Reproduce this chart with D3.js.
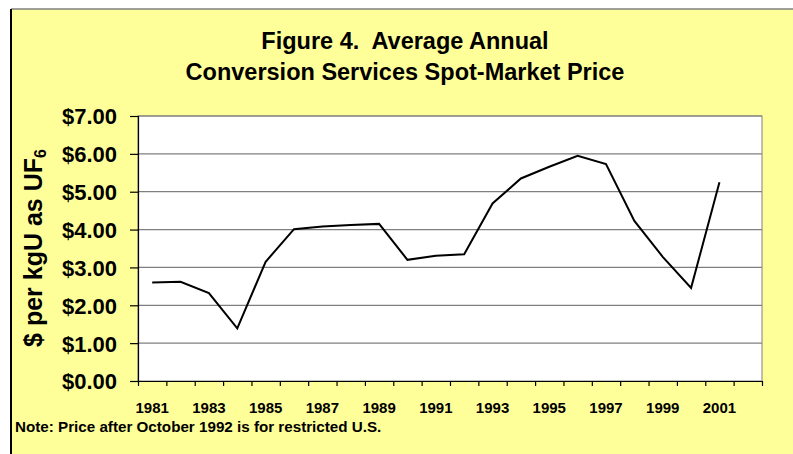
<!DOCTYPE html>
<html>
<head>
<meta charset="utf-8">
<script src="https://cdn.jsdelivr.net/npm/d3@7"></script>
<style>
  html, body { margin: 0; padding: 0; background: #ffffff; }
  svg { display: block; }
  text { font-family: "Liberation Sans", Arial, sans-serif; font-weight: bold; fill: #000; }
</style>
</head>
<body>
<script>
// ---- Data ----
const years = d3.range(1981, 2003);            // category axis 1981..2002
const dataYears = d3.range(1981, 2002);        // years with values
const prices = [2.60, 2.62, 2.32, 1.39, 3.15, 4.01, 4.08, 4.12, 4.15, 3.20, 3.31,
                3.35, 4.69, 5.35, 5.66, 5.95, 5.73, 4.23, 3.28, 2.46, 5.25];
const yTicks = [0, 1, 2, 3, 4, 5, 6, 7];
const xLabelYears = [1981, 1983, 1985, 1987, 1989, 1991, 1993, 1995, 1997, 1999, 2001];
const titleLines = ["Figure 4.  Average Annual", "Conversion Services Spot-Market Price"];
const yTitle = "$ per kgU as UF";
const yTitleSub = "6";
const note = "Note: Price after October 1992 is for restricted U.S.";

// ---- Layout ----
const W = 793, H = 454;
const plot = { left: 138, right: 762, top: 116, bottom: 381 };

const svg = d3.select("body").append("svg").attr("width", W).attr("height", H);

// background frame
svg.append("rect").attr("x", 11).attr("y", 9).attr("width", W).attr("height", H)
  .attr("fill", "#FFFF99");
svg.append("line").attr("x1", 11).attr("x2", W).attr("y1", 9).attr("y2", 9)
  .attr("stroke", "#808080").attr("stroke-width", 1.5);
svg.append("line").attr("x1", 11).attr("x2", 11).attr("y1", 9).attr("y2", H)
  .attr("stroke", "#000").attr("stroke-width", 2);

// title
svg.append("g").selectAll("text").data(titleLines).join("text")
  .attr("x", 405).attr("y", (d, i) => 49 + i * 31)
  .attr("text-anchor", "middle").style("font-size", "23.5px")
  .style("white-space", "pre").attr("xml:space", "preserve").text(d => d);

// scales
const x = d3.scaleBand().domain(years).range([plot.left, plot.right]).padding(0);
const xEdge = d3.scaleLinear().domain([0, years.length]).range([plot.left, plot.right]);
const y = d3.scaleLinear().domain([0, 7]).range([plot.bottom, plot.top]);

// plot area
svg.append("rect").attr("x", plot.left).attr("y", plot.top)
  .attr("width", plot.right - plot.left).attr("height", plot.bottom - plot.top)
  .attr("fill", "#ffffff").attr("stroke", "#808080").attr("stroke-width", 1);

// gridlines
svg.append("g").selectAll("line").data(yTicks.filter(d => d > 0)).join("line")
  .attr("x1", plot.left).attr("x2", plot.right)
  .attr("y1", d => y(d)).attr("y2", d => y(d))
  .attr("stroke", "#7f7f7f").attr("stroke-width", 1.2);

// y axis
const yAxis = svg.append("g").attr("transform", `translate(${plot.left},0)`)
  .call(d3.axisLeft(y).tickValues(yTicks).tickSize(8).tickPadding(13)
    .tickFormat(d => "$" + d.toFixed(2)));
yAxis.selectAll("path, line").attr("stroke", "#000").attr("stroke-width", 1.2);
yAxis.selectAll("text").style("font-size", "22px").attr("dy", "0.36em")
  .style("font-family", "Liberation Sans, Arial, sans-serif").style("font-weight", "bold");

// x axis ticks at category edges
const xAxisTicks = svg.append("g").attr("transform", `translate(0,${plot.bottom})`)
  .call(d3.axisBottom(xEdge).tickValues(d3.range(0, years.length + 1)).tickSize(5)
    .tickSizeOuter(0).tickFormat(""));
xAxisTicks.selectAll("path, line").attr("stroke", "#000").attr("stroke-width", 1.2);

// x labels at category centers
const xLabels = svg.append("g").attr("transform", `translate(0,${plot.bottom})`)
  .call(d3.axisBottom(x).tickValues(xLabelYears).tickSize(0).tickPadding(21));
xLabels.select(".domain").remove();
xLabels.selectAll("text").style("font-size", "15px")
  .style("font-family", "Liberation Sans, Arial, sans-serif").style("font-weight", "bold");

// line
const line = d3.line().x((d, i) => x(dataYears[i]) + x.bandwidth() / 2).y(d => y(d));
svg.append("path").datum(prices).attr("d", line)
  .attr("fill", "none").attr("stroke", "#000").attr("stroke-width", 2)
  .attr("stroke-linejoin", "miter");

// y title
const yt = svg.append("text")
  .attr("transform", "translate(42,248) rotate(-90)")
  .attr("text-anchor", "middle").style("font-size", "25px");
yt.append("tspan").text(yTitle);
yt.append("tspan").text(yTitleSub).attr("dy", "0.25em").style("font-size", "16px");

// note
svg.append("text").attr("x", 15).attr("y", 432).style("font-size", "15.2px").text(note);
</script>
</body>
</html>
